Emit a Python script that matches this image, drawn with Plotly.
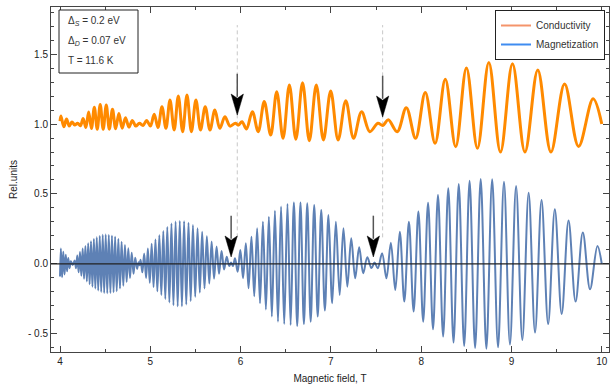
import plotly.graph_objects as go

# ---- data (extrema of the oscillations) ----
cond_B = [4.000, 4.010, 4.042, 4.072, 4.102, 4.132, 4.163, 4.195, 4.226, 4.256,
          4.286, 4.317, 4.348, 4.380, 4.412, 4.445, 4.478, 4.512, 4.546, 4.581,
          4.616, 4.652, 4.688, 4.725, 4.763, 4.801, 4.839, 4.879, 4.919, 4.959,
          5.001, 5.043, 5.085, 5.129, 5.173, 5.218, 5.264, 5.310, 5.358, 5.406,
          5.455, 5.505, 5.556, 5.608, 5.661, 5.715, 5.770, 5.826, 5.883, 5.941,
          5.975, 6.015, 6.065, 6.130, 6.195, 6.262, 6.333, 6.400, 6.470, 6.540,
          6.612, 6.686, 6.761, 6.838, 6.917, 6.998, 7.080, 7.165, 7.251, 7.340,
          7.431, 7.520, 7.575, 7.635, 7.734, 7.835, 7.938, 8.045, 8.154, 8.267,
          8.382, 8.501, 8.623, 8.749, 8.878, 9.011, 9.149, 9.291, 9.437, 9.588,
          9.743, 9.904, 10.000]
cond_v = [1.020, 1.057, 0.980, 1.035, 0.985, 1.015, 0.993, 1.006, 0.988, 1.040,
          0.975, 1.085, 0.968, 1.120, 0.963, 1.140, 0.962, 1.135, 0.963, 1.105,
          0.966, 1.075, 0.970, 1.045, 0.978, 1.025, 0.985, 1.005, 0.990, 1.025,
          0.985, 1.070, 0.975, 1.124, 0.969, 1.171, 0.957, 1.200, 0.945, 1.207,
          0.945, 1.171, 0.957, 1.124, 0.957, 1.100, 0.969, 1.052, 0.985, 1.005,
          0.992, 1.017, 0.965, 1.088, 0.945, 1.160, 0.921, 1.231, 0.898, 1.279,
          0.891, 1.295, 0.881, 1.279, 0.886, 1.236, 0.886, 1.166, 0.898, 1.088,
          0.945, 1.005, 0.990, 1.030, 0.945, 1.117, 0.898, 1.226, 0.862, 1.320,
          0.838, 1.400, 0.826, 1.440, 0.800, 1.430, 0.800, 1.386, 0.800, 1.286,
          0.840, 1.180, 1.000]

mag_B = [4.000, 4.009, 4.023, 4.036, 4.050, 4.064, 4.078, 4.091, 4.106, 4.120,
         4.140, 4.162, 4.177, 4.191, 4.206, 4.221, 4.236, 4.251, 4.266, 4.281,
         4.297, 4.312, 4.328, 4.343, 4.359, 4.375, 4.391, 4.407, 4.423, 4.440,
         4.456, 4.473, 4.489, 4.506, 4.523, 4.540, 4.558, 4.575, 4.593, 4.610,
         4.628, 4.646, 4.664, 4.682, 4.701, 4.719, 4.738, 4.756, 4.775, 4.794,
         4.814, 4.833, 4.853, 4.870, 4.880, 4.892, 4.912, 4.932, 4.953, 4.973,
         4.994, 5.015, 5.036, 5.057, 5.078, 5.100, 5.122, 5.144, 5.166, 5.188,
         5.211, 5.234, 5.256, 5.280, 5.303, 5.326, 5.350, 5.374, 5.398, 5.423,
         5.447, 5.472, 5.497, 5.523, 5.548, 5.574, 5.600, 5.626, 5.653, 5.679,
         5.706, 5.734, 5.761, 5.789, 5.817, 5.846, 5.874, 5.895, 5.915, 5.938,
         5.967, 5.997, 6.027, 6.058, 6.088, 6.120, 6.151, 6.183, 6.215, 6.247,
         6.280, 6.313, 6.346, 6.380, 6.414, 6.448, 6.483, 6.519, 6.554, 6.590,
         6.627, 6.663, 6.701, 6.738, 6.776, 6.815, 6.854, 6.893, 6.933, 6.973,
         7.014, 7.055, 7.097, 7.139, 7.182, 7.225, 7.269, 7.313, 7.358, 7.403,
         7.449, 7.484, 7.519, 7.567, 7.615, 7.664, 7.713, 7.763, 7.813, 7.864,
         7.916, 7.969, 8.022, 8.076, 8.131, 8.186, 8.243, 8.300, 8.358, 8.416,
         8.476, 8.536, 8.597, 8.659, 8.722, 8.786, 8.851, 8.917, 8.983, 9.051,
         9.120, 9.190, 9.261, 9.333, 9.406, 9.480, 9.556, 9.632, 9.710, 9.790,
         9.870, 9.952, 10.000]
mag_v = [-0.090, 0.110, -0.095, 0.088, -0.075, 0.065, -0.052, 0.042, -0.030, 0.020,
         -0.008, 0.025, -0.030, 0.060, -0.060, 0.085, -0.085, 0.110, -0.105, 0.128,
         -0.125, 0.148, -0.145, 0.163, -0.162, 0.178, -0.176, 0.190, -0.190, 0.200,
         -0.200, 0.208, -0.207, 0.210, -0.210, 0.207, -0.208, 0.202, -0.202, 0.195,
         -0.195, 0.178, -0.175, 0.159, -0.155, 0.136, -0.128, 0.112, -0.100, 0.080,
         -0.070, 0.045, -0.035, 0.012, -0.010, 0.030, -0.060, 0.075, -0.100, 0.110,
         -0.135, 0.145, -0.165, 0.175, -0.195, 0.205, -0.222, 0.235, -0.250, 0.265,
         -0.275, 0.290, -0.295, 0.303, -0.303, 0.307, -0.303, 0.305, -0.290, 0.295,
         -0.265, 0.278, -0.235, 0.255, -0.205, 0.230, -0.175, 0.198, -0.140, 0.160,
         -0.105, 0.125, -0.070, 0.093, -0.040, 0.052, -0.015, 0.010, -0.015, 0.040,
         -0.055, 0.100, -0.102, 0.148, -0.174, 0.195, -0.230, 0.255, -0.280, 0.302,
         -0.325, 0.338, -0.376, 0.381, -0.412, 0.410, -0.429, 0.429, -0.436, 0.440,
         -0.443, 0.440, -0.429, 0.433, -0.412, 0.421, -0.376, 0.386, -0.333, 0.350,
         -0.281, 0.302, -0.221, 0.255, -0.162, 0.183, -0.102, 0.119, -0.066, 0.048,
         -0.029, 0.010, -0.031, 0.076, -0.102, 0.152, -0.186, 0.231, -0.269, 0.302,
         -0.340, 0.374, -0.412, 0.438, -0.467, 0.493, -0.519, 0.541, -0.562, 0.571,
         -0.586, 0.595, -0.600, 0.607, -0.605, 0.605, -0.595, 0.588, -0.575, 0.557,
         -0.543, 0.509, -0.490, 0.457, -0.429, 0.391, -0.357, 0.310, -0.269, 0.224,
         -0.181, 0.129, 0.000]

x_tickvals = [4, 5, 6, 7, 8, 9, 10]
y_tickvals = [-0.5, 0.0, 0.5, 1.0, 1.5]
y_ticktext = ["- 0.5", "0.0", "0.5", "1.0", "1.5"]

# marker positions (field of the beat nodes) and arrow tips
dash_B = [5.963, 7.573]
arrow_B = [5.963, 7.573, 5.895, 7.470]
arrow_tip = [1.064, 1.050, 0.050, 0.050]

legend_names = ["Conductivity", "Magnetization"]
legend_colors = ["#F4946B", "#3F8CF0"]
info_lines = ["Δ<sub><i>S</i></sub> = 0.2 eV", "Δ<sub><i>D</i></sub> = 0.07 eV", "T = 11.6 K"]

ORANGE = "#FF8A00"
BLUE = "#5E81B5"
FONT = "Liberation Sans, Arial, sans-serif"

# plot area in pixels
L, T, W, H = 51, 7, 558, 345
def px(xp):
    return (xp - L) / W
def py(yp):
    return 1 - (yp - T) / H

fig = go.Figure()
fig.add_trace(go.Scatter(x=mag_B, y=mag_v, mode="lines", showlegend=False,
                         line=dict(color=BLUE, width=2.0, shape="spline", smoothing=1.0)))
fig.add_trace(go.Scatter(x=cond_B, y=cond_v, mode="lines", showlegend=False,
                         line=dict(color=ORANGE, width=3, shape="spline", smoothing=1.0)))
for n, c in zip(legend_names, legend_colors):
    fig.add_trace(go.Scatter(x=[None], y=[None], mode="lines", name=n,
                             line=dict(color=c, width=2)))

shapes = []
for b in dash_B:
    shapes.append(dict(type="line", xref="x", yref="y", x0=b, x1=b, y0=0.19, y1=1.707,
                       line=dict(color="#C8C8C8", width=1, dash="4px,3px"), layer="below"))
shapes.append(dict(type="line", xref="paper", yref="y", x0=0, x1=1, y0=0, y1=0,
                   line=dict(color="#222222", width=1.3), layer="above"))
hw, hl, sl = 0.068, 0.150, 0.145
for b, t in zip(arrow_B, arrow_tip):
    top = t + hl
    shapes.append(dict(type="line", xref="x", yref="y", x0=b, x1=b, y0=top - 0.02, y1=top + sl,
                       line=dict(color="#555555", width=1.5), layer="above"))
    shapes.append(dict(type="path", xref="x", yref="y",
                       path=f"M {b-hw},{top} L {b},{top-0.03} L {b+hw},{top} L {b},{t} Z",
                       fillcolor="black", line=dict(color="black", width=0.5), layer="above"))
shapes.append(dict(type="rect", xref="paper", yref="paper", x0=px(59), x1=px(138),
                   y0=py(73), y1=py(10), line=dict(color="#222222", width=1),
                   fillcolor="white", layer="above"))

annotations = []
for i, s in enumerate(info_lines):
    annotations.append(dict(xref="paper", yref="paper", x=px(66), y=py(21 + 20 * i),
                            xanchor="left", yanchor="middle", text=s, showarrow=False,
                            font=dict(family=FONT, size=10, color="#333333")))

fig.update_layout(
    width=612, height=392,
    margin=dict(l=L, r=612 - L - W, t=T, b=392 - T - H, autoexpand=False),
    paper_bgcolor="white", plot_bgcolor="white",
    font=dict(family=FONT, size=10, color="#222222"),
    shapes=shapes, annotations=annotations,
    legend=dict(x=px(605), y=py(10), xanchor="right", yanchor="top",
                bgcolor="white", bordercolor="#222222", borderwidth=1,
                font=dict(family=FONT, size=10, color="#333333"),
                tracegroupgap=2, itemwidth=30),
    showlegend=True,
    hovermode=False,
)
fig.update_xaxes(range=[3.9, 10.08], showline=True, linecolor="#444444", linewidth=1,
                 mirror="allticks", ticks="inside", ticklen=6, tickcolor="#444444",
                 tickvals=x_tickvals, showgrid=False, zeroline=False, automargin=False,
                 minor=dict(ticks="inside", ticklen=3, dtick=0.5, tick0=4, tickcolor="#444444"),
                 tickfont=dict(family=FONT, size=10, color="#222222"),
                 title=dict(text="Magnetic field, T", standoff=8,
                            font=dict(family=FONT, size=10, color="#222222")))
fig.update_yaxes(range=[-0.629, 1.836], showline=True, linecolor="#444444", linewidth=1,
                 mirror="allticks", ticks="inside", ticklen=6, tickcolor="#444444",
                 tickvals=y_tickvals, ticktext=y_ticktext, showgrid=False, zeroline=False,
                 automargin=False,
                 minor=dict(ticks="inside", ticklen=3, dtick=0.1, tick0=0, tickcolor="#444444"),
                 tickfont=dict(family=FONT, size=10, color="#222222"),
                 title=dict(text="Rel.units", standoff=8,
                            font=dict(family=FONT, size=10, color="#222222")))

fig.write_html("out.html", config={"displayModeBar": False},
               post_script="document.body.style.margin='0px';document.body.style.padding='0px';")
